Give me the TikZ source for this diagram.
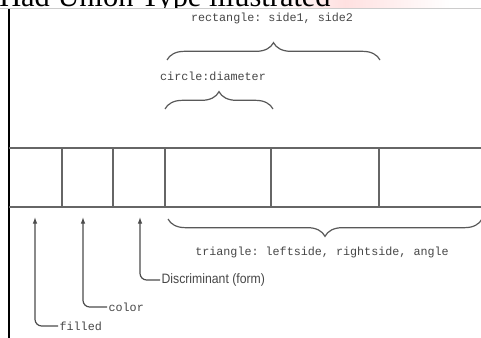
\documentclass[tikz,border=0pt]{standalone}
\usepackage{fontspec}
\setmainfont{Liberation Serif}
\setmonofont{Liberation Mono}
\newfontfamily\narrowsans[FakeStretch=0.9]{Liberation Sans}
\usetikzlibrary{arrows.meta, decorations.pathreplacing}

\tikzset{
  field/.style={draw=black!60, line width=1pt},
  lbl/.style={font=\ttfamily\fontsize{8.8}{10}\selectfont, text=black!72, inner sep=1pt},
  curly/.style={draw=black!65, line width=0.9pt, decorate, decoration={brace, amplitude=#1}},
  pointer/.style={draw=black!70, line width=0.9pt, rounded corners=5pt, -{Latex[length=5pt, width=3.5pt]}}
}

\begin{document}
\begin{tikzpicture}[x=0.75pt, y=-0.75pt]
\useasboundingbox (0,0) rectangle (481,338);
\clip (0,0) rectangle (481,338);

% heading behind the figure, with its highlight
\shade[left color=white, right color=red!12] (270,0) rectangle (345,9);
\shade[left color=red!12, right color=white] (345,0) rectangle (450,9);
\node[anchor=base west, inner sep=0pt, font=\fontsize{22.8}{26}\selectfont] (title) at (-1,7) {Had Union Type illustrated};

% the figure itself
\fill[white] (0,8) rectangle (481,338);
\draw[black!20, line width=0.6pt] (0,8.5) -- (481,8.5);
\draw[black, line width=1.5pt] (9,9) -- (9,338);

\begin{scope}
    \coordinate (L1) at (9,148);
    \coordinate (R1) at (481,148);
    \coordinate (L2) at (9,207);
    \coordinate (R2) at (481,207);
    \path [field] (L1) edge (R1);
    \path [field] (L2) edge (R2);
    \foreach \x in {62,113,165,271,379}
        \draw[field] (\x,148) -- (\x,207);
\end{scope}

% braces over and under the record
\draw[curly=13pt] (167,60) -- (380,60);
\node[lbl] (rect) at (272,18) {rectangle: side1, side2};
\draw[curly=13pt] (165,109) -- (273,109);
\node[lbl] (circ) at (213,76) {circle:diameter};
\draw[curly=13pt] (482,219) -- (168,219);
\node[lbl] (tri) at (322,252) {triangle: leftside, rightside, angle};

% arrows to the first three slots
\coordinate (tipF) at (35,217);
\coordinate (tipC) at (83,217);
\coordinate (tipD) at (140,217);
\node[lbl, anchor=west] (filled) at (58,326) {filled};
\node[lbl, anchor=west] (color) at (107,307) {color};
\node[lbl, anchor=west, font=\narrowsans\fontsize{10.2}{11}\selectfont] (disc) at (160,280) {Discriminant (form)};
\draw[pointer] (filled.west) -| (tipF);
\draw[pointer] (color.west) -| (tipC);
\draw[pointer] (disc.west) -| (tipD);
\end{tikzpicture}
\end{document}
